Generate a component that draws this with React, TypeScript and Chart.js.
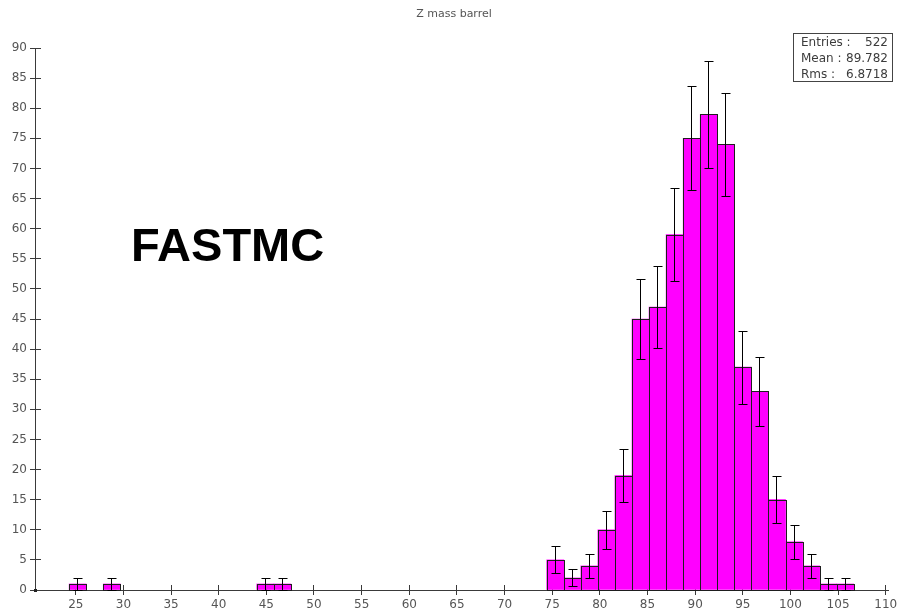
import React, { useEffect, useRef } from 'react';
import { Chart, registerables } from 'chart.js';

Chart.register(...registerables);

const chartTitle = 'Z mass barrel';
const sampleLabel = 'FASTMC';
const histMin = 20.72;
const histMax = 110.24;

// bin centres of the 50-bin histogram
const binCenters = [
  21.62, 23.41, 25.2, 26.99, 28.78, 30.57, 32.36, 34.15, 35.94, 37.73,
  39.52, 41.31, 43.1, 44.89, 46.68, 48.47, 50.26, 52.05, 53.84, 55.63,
  57.42, 59.21, 61.0, 62.79, 64.58, 66.37, 68.16, 69.95, 71.74, 73.53,
  75.32, 77.11, 78.9, 80.69, 82.48, 84.27, 86.06, 87.85, 89.64, 91.43,
  93.22, 95.01, 96.8, 98.59, 100.38, 102.17, 103.96, 105.75, 107.54, 109.33,
];

const counts = [
  0, 0, 1, 0, 1, 0, 0, 0, 0, 0,
  0, 0, 0, 1, 1, 0, 0, 0, 0, 0,
  0, 0, 0, 0, 0, 0, 0, 0, 0, 0,
  5, 2, 4, 10, 19, 45, 47, 59, 75, 79,
  74, 37, 33, 15, 8, 4, 1, 1, 0, 0,
];

const errors = [
  0, 0, 1, 0, 1, 0, 0, 0, 0, 0,
  0, 0, 0, 1, 1, 0, 0, 0, 0, 0,
  0, 0, 0, 0, 0, 0, 0, 0, 0, 0,
  2.24, 1.41, 2, 3.16, 4.36, 6.71, 6.86, 7.68, 8.66, 8.89,
  8.6, 6.08, 5.74, 3.87, 2.83, 2, 1, 1, 0, 0,
];

const xTicks = [25, 30, 35, 40, 45, 50, 55, 60, 65, 70, 75, 80, 85, 90, 95, 100, 105, 110];
const yTicks = [0, 5, 10, 15, 20, 25, 30, 35, 40, 45, 50, 55, 60, 65, 70, 75, 80, 85, 90];

const statsLabels = ['Entries :', 'Mean :', 'Rms :'];
const statsValues = ['522', '89.782', '6.8718'];

const AXIS_COLOR = '#3a3a3a';
const LABEL_COLOR = '#555555';
const TICK_FONT = { family: '"DejaVu Sans", Verdana, sans-serif', size: 12 };

const align = (p: number) => Math.round(p - 0.5) + 0.5;

const histPlugin = {
  id: 'histDecor',
  beforeDatasetsDraw(chart: any) {
    const ctx = chart.ctx;
    const xs = chart.scales.x;
    const ys = chart.scales.y;
    const area = chart.chartArea;
    ctx.save();
    ctx.strokeStyle = AXIS_COLOR;
    ctx.lineWidth = 1;
    ctx.beginPath();
    xTicks.forEach((v) => {
      const px = align(xs.getPixelForValue(v));
      ctx.moveTo(px, area.bottom - 5);
      ctx.lineTo(px, area.bottom);
    });
    yTicks.forEach((v) => {
      const py = align(ys.getPixelForValue(v));
      ctx.moveTo(area.left, py);
      ctx.lineTo(area.left + 6, py);
    });
    ctx.stroke();
    ctx.restore();
  },
  afterDatasetsDraw(chart: any) {
    const ctx = chart.ctx;
    const ys = chart.scales.y;
    const meta = chart.getDatasetMeta(0);
    ctx.save();
    // bar outlines
    ctx.strokeStyle = '#1e1e1e';
    ctx.lineWidth = 1;
    meta.data.forEach((el: any, i: number) => {
      if (!counts[i]) return;
      const p = el.getProps(['x', 'y', 'base', 'width'], true);
      const l = Math.round(p.x - p.width / 2);
      const r = Math.round(p.x + p.width / 2);
      const t = Math.round(p.y);
      const b = Math.round(p.base);
      ctx.strokeRect(l + 0.5, t + 0.5, r - l, b - t);
    });
    // error bars
    ctx.strokeStyle = '#000000';
    ctx.beginPath();
    meta.data.forEach((el: any, i: number) => {
      if (!counts[i]) return;
      const p = el.getProps(['x'], true);
      const cx = Math.floor(p.x) + 0.5;
      const top = Math.round(ys.getPixelForValue(counts[i] + errors[i])) + 0.5;
      const bot = Math.round(ys.getPixelForValue(Math.max(0, counts[i] - errors[i]))) + 0.5;
      ctx.moveTo(cx, top);
      ctx.lineTo(cx, bot);
      ctx.moveTo(cx - 4, top);
      ctx.lineTo(cx + 5, top);
      ctx.moveTo(cx - 4, bot);
      ctx.lineTo(cx + 5, bot);
    });
    ctx.stroke();
    ctx.restore();
  },
  afterDraw(chart: any) {
    const ctx = chart.ctx;
    const area = chart.chartArea;
    ctx.save();
    // origin dot
    ctx.fillStyle = '#222';
    ctx.fillRect(area.left - 1, area.bottom - 1, 3, 3);
    // title
    ctx.fillStyle = LABEL_COLOR;
    ctx.font = '11px "DejaVu Sans", Verdana, sans-serif';
    ctx.textAlign = 'center';
    ctx.textBaseline = 'alphabetic';
    ctx.fillText(chartTitle, 454, 17);
    // big label
    ctx.fillStyle = '#000000';
    ctx.font = 'bold 47px "Liberation Sans", Arial, sans-serif';
    ctx.textAlign = 'left';
    ctx.fillText(sampleLabel, 131, 261);
    // stats box
    ctx.fillStyle = '#ffffff';
    ctx.fillRect(793, 33, 100, 48);
    ctx.strokeStyle = '#444';
    ctx.lineWidth = 1;
    ctx.strokeRect(793.5, 33.5, 99, 48);
    ctx.fillStyle = '#3c3c3c';
    ctx.font = '12px "DejaVu Sans", Verdana, sans-serif';
    statsLabels.forEach((lab, i) => {
      const y = 45.5 + i * 16;
      ctx.textAlign = 'left';
      ctx.fillText(lab, 801, y);
      ctx.textAlign = 'right';
      ctx.fillText(statsValues[i], 888, y);
    });
    ctx.restore();
  },
};

export default function App() {
  const canvasRef = useRef<HTMLCanvasElement | null>(null);

  useEffect(() => {
    document.body.style.margin = '0';
    const canvas = canvasRef.current;
    if (!canvas) return;
    const chart = new Chart(canvas, {
      type: 'bar',
      data: {
        datasets: [
          {
            label: chartTitle,
            data: binCenters.map((x, i) => ({ x, y: counts[i] > 0 ? counts[i] : null })) as any,
            backgroundColor: '#ff00ff',
            borderWidth: 0,
            barPercentage: 1,
            categoryPercentage: 1,
            grouped: false,
          },
        ],
      },
      options: {
        animation: false,
        responsive: false,
        devicePixelRatio: 1,
        events: [],
        layout: { padding: { top: 48, right: 11, left: 0, bottom: 0 } },
        plugins: {
          legend: { display: false },
          title: { display: false },
          tooltip: { enabled: false },
        },
        scales: {
          x: {
            type: 'linear',
            position: 'bottom',
            min: histMin,
            max: histMax,
            offset: false,
            grid: {
              offset: false,
              drawOnChartArea: false,
              drawTicks: true,
              tickLength: 5,
              color: AXIS_COLOR,
              tickColor: AXIS_COLOR,
            },
            border: { display: true, color: AXIS_COLOR, width: 1 },
            ticks: {
              font: TICK_FONT,
              color: LABEL_COLOR,
              padding: 3,
              maxRotation: 0,
              autoSkip: false,
              includeBounds: false,
            },
            afterBuildTicks: (scale: any) => {
              scale.ticks = xTicks.map((v) => ({ value: v }));
            },
            afterFit: (scale: any) => {
              scale.height = 22;
              scale.paddingLeft = 0;
              scale.paddingRight = 0;
            },
          } as any,
          y: {
            type: 'linear',
            min: 0,
            max: 90,
            grid: {
              drawOnChartArea: false,
              drawTicks: true,
              tickLength: 5,
              color: AXIS_COLOR,
              tickColor: AXIS_COLOR,
            },
            border: { display: true, color: AXIS_COLOR, width: 1 },
            ticks: {
              font: TICK_FONT,
              color: LABEL_COLOR,
              padding: 3,
              autoSkip: false,
            },
            afterBuildTicks: (scale: any) => {
              scale.ticks = yTicks.map((v) => ({ value: v }));
            },
            afterFit: (scale: any) => {
              scale.width = 35;
              scale.paddingTop = 0;
              scale.paddingBottom = 0;
            },
          } as any,
        },
      },
      plugins: [histPlugin],
    });
    return () => chart.destroy();
  }, []);

  return (
    <div style={{ position: 'fixed', left: 0, top: 0, width: 899, height: 612, background: '#fff' }}>
      <canvas ref={canvasRef} width={899} height={612} style={{ display: 'block' }} />
    </div>
  );
}
